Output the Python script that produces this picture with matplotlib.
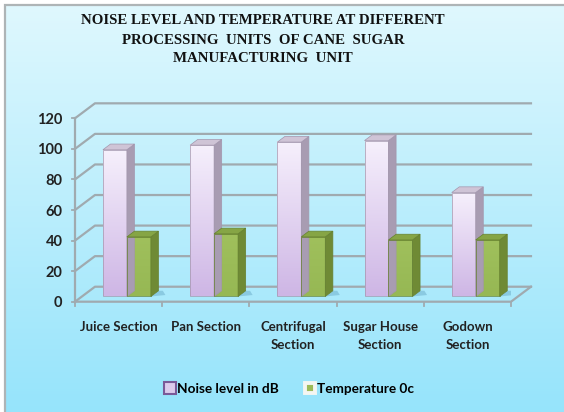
import numpy as np
import matplotlib.pyplot as plt
from matplotlib.patches import Polygon, Rectangle
from matplotlib.lines import Line2D

# --- data ---
sections = ["Juice Section", "Pan Section", "Centrifugal\nSection",
            "Sugar House\nSection", "Godown\nSection"]
noise_db = [96, 99, 101, 102, 68]
temperature_c = [39, 41, 39, 37, 37]
y_ticks = [0, 20, 40, 60, 80, 100, 120]
series_names = ["Noise level in dB", "Temperature 0c"]

# --- 3d look parameters (front plane data units) ---
DDX = 0.229      # x shift from front to back wall
DDY = 9.8        # y shift from front to back wall
BAR_FRONT = 0.35  # depth of the bar front faces
BAR_DEPTH = 0.38  # thickness of each bar
BAR_W = 0.275
GRID_C = "#a0aaaf"
LABEL_FONT = "Lato"

W, H = 564, 412
fig = plt.figure(figsize=(W / 100, H / 100), dpi=100)

# background panel with a soft cyan gradient and a grey frame
bg = fig.add_axes([0, 0, 1, 1], zorder=-10)
top = np.array([224, 248, 254]) / 255
bot = np.array([150, 228, 251]) / 255
t = np.linspace(0, 1, 256)[:, None]
grad = (top * (1 - t) + bot * t)[:, None, :]
bg.imshow(grad, extent=[0, 1, 0, 1], aspect="auto", origin="upper")
bg.set_xlim(0, 1)
bg.set_ylim(0, 1)
bg.axis("off")
bg.add_patch(Rectangle((0, 0), 4 / W, 1, color="white", transform=bg.transAxes))
bg.add_patch(Rectangle((0, 1 - 4 / H), 1, 4 / H, color="white", transform=bg.transAxes))
bg.plot([4.5 / W, 4.5 / W, 1], [0, 1 - 4.5 / H, 1 - 4.5 / H], color="#aeb4b6", lw=1.6,
        transform=bg.transAxes, solid_joinstyle="miter")

ax = fig.add_axes([75 / W, 110.3 / H, 436 / W, 183.4 / H])
ax.set_xlim(-0.5, len(sections) - 0.5)
ax.set_ylim(0, 120)
ax.patch.set_alpha(0)
for s in ax.spines.values():
    s.set_visible(False)

x_left, x_right = -0.5, len(sections) - 0.5

# left wall and back wall gridlines
for v in y_ticks:
    ax.plot([x_left, x_left + DDX, x_right + DDX], [v, v + DDY, v + DDY],
            color=GRID_C, lw=1.6, clip_on=False, zorder=1)

# floor edges and tick marks
ax.plot([x_left, x_right, x_right + DDX], [0, 0, DDY], color=GRID_C, lw=1.6,
        clip_on=False, zorder=1)
for k in range(len(sections) + 1):
    ax.plot([x_left + k, x_left + k], [0, -3], color=GRID_C, lw=1.3, clip_on=False, zorder=1)
# vertical axis line
ax.plot([x_left, x_left], [0, 120], color=GRID_C, lw=1.6, clip_on=False, zorder=1)
for v in y_ticks:
    ax.plot([x_left - 0.03, x_left], [v, v], color=GRID_C, lw=1.3, clip_on=False, zorder=1)


def draw_bar(x0, h, front_top, front_bot, side_c, cap_c, edge_c):
    fx = x0 + BAR_FRONT * DDX
    fy = BAR_FRONT * DDY
    sx = BAR_DEPTH * DDX
    sy = BAR_DEPTH * DDY
    # shadow on the floor
    ax.add_patch(Polygon([(fx + BAR_W, fy), (fx + BAR_W + sx + 0.08, fy + sy * 0.25),
                          (fx + BAR_W + sx + 0.05, fy + sy), (fx + BAR_W + sx, fy + sy)],
                         closed=True, color="#5a9cbb", alpha=0.4, lw=0, zorder=2))
    # front face with vertical gradient
    g = np.linspace(0, 1, 64)[:, None]
    ftop = np.array(front_top) / 255
    fbot = np.array(front_bot) / 255
    img = (ftop * (1 - g) + fbot * g)[:, None, :]
    ax.imshow(img, extent=[fx, fx + BAR_W, fy, fy + h], aspect="auto",
              origin="upper", zorder=3, interpolation="bilinear")
    ax.add_patch(Rectangle((fx, fy), BAR_W, h, fill=False, ec=edge_c, lw=0.5, zorder=4))
    # side face
    ax.add_patch(Polygon([(fx + BAR_W, fy), (fx + BAR_W, fy + h),
                          (fx + BAR_W + sx, fy + h + sy), (fx + BAR_W + sx, fy + sy)],
                         closed=True, fc=side_c, ec=edge_c, lw=0.5, zorder=4))
    # top cap
    ax.add_patch(Polygon([(fx, fy + h), (fx + BAR_W, fy + h),
                          (fx + BAR_W + sx, fy + h + sy), (fx + sx, fy + h + sy)],
                         closed=True, fc=cap_c, ec=edge_c, lw=0.5, zorder=4))


for i in range(len(sections)):
    draw_bar(i - BAR_W + 0.015, noise_db[i], (246, 240, 252), (206, 182, 229),
             "#a89cb2", "#cfc4d6", "#a396ad")
    draw_bar(i + 0.015, temperature_c[i], (160, 192, 92), (150, 184, 84),
             "#6f8a35", "#86a545", "#66812f")

# axis labels
ax.set_yticks(y_ticks)
ax.set_yticklabels([str(v) for v in y_ticks], fontfamily=LABEL_FONT,
                   fontweight="bold", fontsize=10.5, color="#222222")
ax.tick_params(axis="y", length=0, pad=9)
ax.set_xticks(range(len(sections)))
ax.set_xticklabels(sections, fontfamily=LABEL_FONT, fontweight="bold",
                   fontsize=9.5, color="#222222", linespacing=1.6)
ax.tick_params(axis="x", length=0, pad=14)

# title
title_lines = ["NOISE LEVEL AND TEMPERATURE AT DIFFERENT",
               "PROCESSING  UNITS  OF CANE  SUGAR",
               "MANUFACTURING  UNIT"]
for k, line in enumerate(title_lines):
    fig.text(263 / W, 1 - (21 + 19 * k) / H, line, ha="center", va="center",
             fontfamily="Liberation Serif", fontweight="bold", fontsize=10.7,
             color="#111111")

# legend
handles = [
    Line2D([], [], ls="none", marker="s", ms=9, mfc="#dccbec", mec="#7a5a98", mew=1.5),
    Line2D([], [], ls="none", marker="s", ms=7, mfc="#9bbb59", mec="#f4f6f2", mew=2.8),
]
fig.legend(handles, series_names, loc="center", bbox_to_anchor=(289 / W, 1 - 389 / H),
           ncol=2, frameon=False, handlelength=0.9, handletextpad=0.1,
           columnspacing=1.8, prop={"family": LABEL_FONT, "weight": "bold", "size": 9.8})

fig.savefig("out.png", dpi=100)
